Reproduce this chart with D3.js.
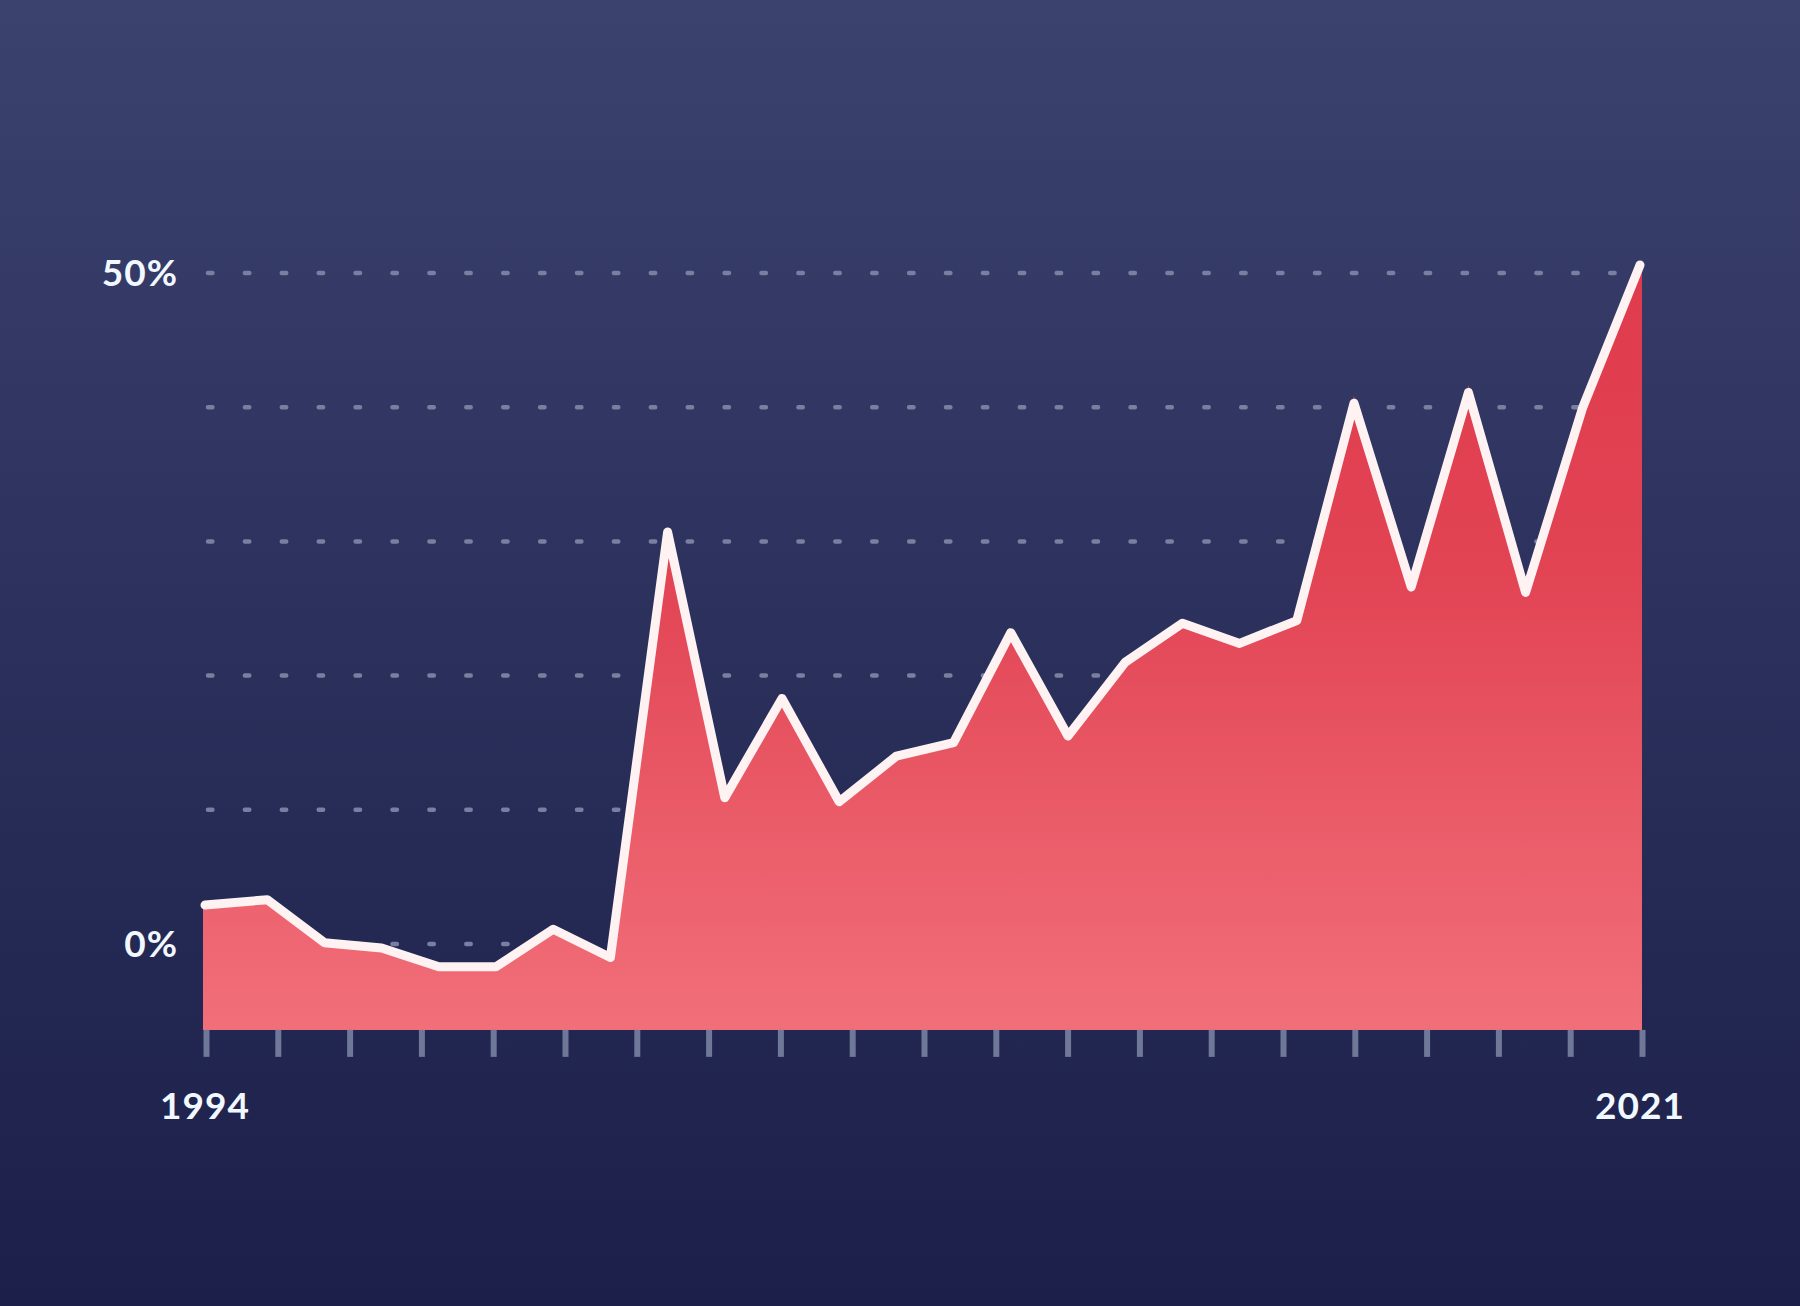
<!DOCTYPE html>
<html>
<head>
<meta charset="utf-8">
<script src="https://cdn.jsdelivr.net/npm/d3@7"></script>
<style>
  html, body { margin: 0; padding: 0; background: #1b2049; }
  svg { display: block; }
</style>
</head>
<body>
<svg id="chart" width="1800" height="1306"></svg>
<script>
// ---- data ----
const values = [2.9, 3.3, 0.1, -0.3, -1.7, -1.7, 1.1, -1.0, 30.7, 10.9, 18.3, 10.6, 14.0, 15.0,
                23.2, 15.5, 21.0, 23.9, 22.4, 24.1, 40.3, 26.6, 41.1, 26.2, 40.0, 50.6];
const gridValues = [0, 10, 20, 30, 40, 50];
const yLabels = [{ v: 0, text: "0%" }, { v: 50, text: "50%" }];
const xLabels = ["1994", "2021"];
const tickCount = 21;

// ---- layout ----
const W = 1800, H = 1306;
const svg = d3.select("#chart");
const defs = svg.append("defs");

const bg = defs.append("linearGradient").attr("id", "bg")
  .attr("x1", 0).attr("y1", 0).attr("x2", 0).attr("y2", 1);
bg.append("stop").attr("offset", "0%").attr("stop-color", "#3b426d");
bg.append("stop").attr("offset", "100%").attr("stop-color", "#1b1f4a");
svg.append("rect").attr("width", W).attr("height", H).attr("fill", "url(#bg)");

const x = d3.scaleLinear().domain([0, values.length - 1]).range([210, 1640]);
const px = i => x(i) - (i === 0 ? 5 : 0); // first point sits on the chart's left edge
const y = d3.scaleLinear().domain([0, 50]).range([944, 273]);
const baseY = y(-6.25);

// grid
const grid = svg.append("g");
grid.selectAll("line").data(gridValues).join("line")
  .attr("x1", 208).attr("x2", 1622)
  .attr("y1", d => y(d)).attr("y2", d => y(d))
  .attr("stroke", "#7880a2")
  .attr("stroke-width", 4.5)
  .attr("stroke-linecap", "round")
  .attr("stroke-dasharray", "4.4 32.5");

// area gradient
const ag = defs.append("linearGradient").attr("id", "areaGrad")
  .attr("gradientUnits", "userSpaceOnUse")
  .attr("x1", 0).attr("y1", y(50)).attr("x2", 0).attr("y2", baseY);
ag.append("stop").attr("offset", "0%").attr("stop-color", "#df3b4d");
ag.append("stop").attr("offset", "40%").attr("stop-color", "#e24454");
ag.append("stop").attr("offset", "100%").attr("stop-color", "#f16f79");

const area = d3.area().x((d, i) => px(i)).y0(baseY).y1(d => y(d));
svg.append("path").datum(values)
  .attr("d", area)
  .attr("fill", "url(#areaGrad)")
  .attr("stroke", "url(#areaGrad)")
  .attr("stroke-width", 4);

const line = d3.line().x((d, i) => px(i)).y(d => y(d));
svg.append("path").datum(values)
  .attr("d", line)
  .attr("fill", "none")
  .attr("stroke", "#fef2f2")
  .attr("stroke-width", 9)
  .attr("stroke-linejoin", "round")
  .attr("stroke-linecap", "round");

// ticks along bottom
const tx = d3.scaleLinear().domain([0, tickCount - 1]).range([206, 1642]);
const axis = d3.axisBottom(tx).tickValues(d3.range(tickCount)).tickFormat("").tickSize(27).tickSizeOuter(0);
const ax = svg.append("g").attr("transform", `translate(0,${baseY + 2})`).call(axis);
ax.select(".domain").remove();
ax.selectAll(".tick line").attr("stroke", "#6f7898").attr("stroke-width", 6);

// labels
const font = "Lato, 'Open Sans', sans-serif";
svg.append("g").selectAll("text").data(yLabels).join("text")
  .attr("x", 178).attr("y", d => y(d.v))
  .attr("dy", "0.36em")
  .attr("text-anchor", "end")
  .attr("font-family", font)
  .attr("font-weight", 700)
  .attr("font-size", 37)
  .attr("letter-spacing", 1)
  .attr("fill", "#f2f8ff")
  .text(d => d.text);

svg.append("g").selectAll("text").data(xLabels).join("text")
  .attr("x", (d, i) => i === 0 ? px(0) : px(values.length - 1))
  .attr("y", 1119)
  .attr("text-anchor", "middle")
  .attr("font-family", font)
  .attr("font-weight", 700)
  .attr("font-size", 37)
  .attr("letter-spacing", 1)
  .attr("fill", "#f2f8ff")
  .text(d => d);
</script>
</body>
</html>
